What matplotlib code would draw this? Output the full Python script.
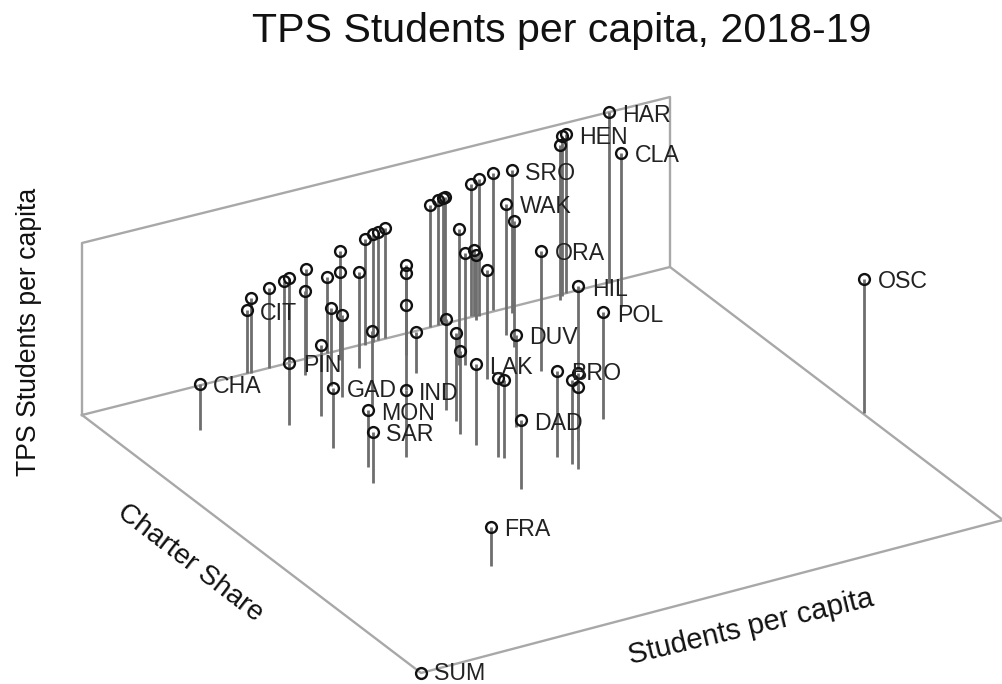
import matplotlib
matplotlib.use("Agg")
import matplotlib.pyplot as plt

plt.rcParams['font.family'] = ['Liberation Sans', 'DejaVu Sans']

# ponto no topo de cada haste (pixels)
px = [199.7, 246.7, 250.7, 269.0, 283.7, 289.3, 289.3, 306.3, 304.7, 327.3,
      340.3, 340.0, 330.7, 342.3, 321.3, 333.3, 359.0, 365.0, 372.7, 378.0,
      385.3, 372.3, 405.7, 406.3, 405.7, 405.7, 367.7, 373.0, 416.0, 429.7,
      438.3, 442.7, 445.0, 506.0, 513.7, 459.0, 464.7, 473.7, 476.3, 487.3,
      541.3, 578.3, 603.3, 515.7, 446.0, 456.0, 460.0, 475.7, 498.3, 503.7,
      521.0, 557.3, 572.3, 578.5, 578.3, 608.7, 621.0, 566.0, 561.7, 560.0,
      512.0, 492.7, 479.0, 470.7, 864.0, 491.0]
py = [383.7, 310.3, 297.7, 288.3, 280.7, 277.7, 362.7, 269.0, 290.7, 276.7,
      251.3, 272.0, 308.3, 315.3, 345.0, 387.7, 271.7, 238.7, 234.0, 231.7,
      228.0, 331.0, 264.7, 273.3, 305.3, 390.3, 410.0, 431.7, 331.7, 205.0,
      200.0, 198.0, 197.0, 203.7, 221.3, 228.7, 253.0, 250.0, 255.3, 270.3,
      250.7, 286.3, 312.3, 335.0, 319.0, 333.3, 351.3, 364.0, 378.0, 380.3,
      420.3, 371.0, 379.7, 373.0, 387.0, 112.3, 152.7, 134.0, 136.0, 145.0,
      170.0, 172.7, 179.3, 184.0, 279.0, 527.0]
# base de cada haste
base = [429.7, 373.0, 373.0, 368.0, 360.0, 362.0, 425.0, 357.0, 375.0, 353.0,
        355.0, 360.0, 386.0, 396.7, 416.0, 448.0, 367.7, 345.0, 342.0, 340.0,
        338.0, 407.0, 340.0, 355.0, 390.0, 456.7, 466.7, 483.0, 373.0, 327.0,
        325.0, 322.0, 322.0, 335.0, 346.7, 365.0, 365.0, 316.0, 320.0, 379.0,
        371.0, 370.0, 419.3, 427.3, 410.0, 420.7, 434.0, 445.0, 456.7, 458.3,
        489.3, 456.7, 464.3, 440.0, 469.3, 283.0, 306.7, 293.0, 296.0, 300.0,
        313.0, 310.0, 316.0, 316.0, 413.0, 566.0]

# rotulos: nome -> indice do ponto
nomes = ['CHA', 'CIT', 'PIN', 'GAD', 'IND', 'MON', 'SAR', 'WAK', 'ORA', 'HIL',
         'POL', 'DUV', 'LAK', 'DAD', 'BRO', 'HAR', 'CLA', 'HEN', 'SRO', 'OSC',
         'FRA']
idx = [0, 1, 6, 15, 25, 26, 27, 33, 40, 41,
       42, 43, 47, 50, 51, 55, 56, 57, 60, 64,
       65]

# caixa
parede_x = [82, 82, 670, 670, 82]
parede_y = [415, 243, 97, 267, 415]
chao_x = [82, 421, 1003, 670]
chao_y = [415, 673, 520, 267]
sum_x = 421
sum_y = 673

fig = plt.figure(figsize=(10.03, 6.84), dpi=100)
ax = fig.add_axes([0, 0, 1, 1])
ax.set_xlim(0, 1003)
ax.set_ylim(684, 0)
ax.axis('off')

ax.plot(parede_x, parede_y, color='#a8a8a8', lw=1.7, zorder=1)
ax.plot(chao_x, chao_y, color='#a8a8a8', lw=1.7, zorder=1)

ax.vlines(px, py, base, color='#6e6e6e', lw=2.0, zorder=2)
ax.plot(px + [sum_x], py + [sum_y], 'o', ms=7.8, mfc='none', mec='#111111', mew=1.7, zorder=3)

for n, i in zip(nomes, idx):
    ax.text(px[i] + 13.5, py[i] + 3, n, fontsize=16.7, color='#222222', va='center', ha='left', zorder=4)
ax.text(sum_x + 13.5, sum_y, 'SUM', fontsize=16.7, color='#222222', va='center', ha='left', zorder=4)

ax.text(561.5, 31, 'TPS Students per capita, 2018-19', fontsize=29.6, color='#111111', ha='center', va='center')
ax.text(29, 332, 'TPS Students per capita', fontsize=19.2, color='#111111', rotation=90, ha='center', va='center')
ax.text(190, 563, 'Charter Share', fontsize=20.2, color='#111111', rotation=-37.5, ha='center', va='center')
ax.text(751, 627, 'Students per capita', fontsize=21, color='#111111', rotation=13.5, ha='center', va='center')

fig.savefig('out.png', dpi=100)
